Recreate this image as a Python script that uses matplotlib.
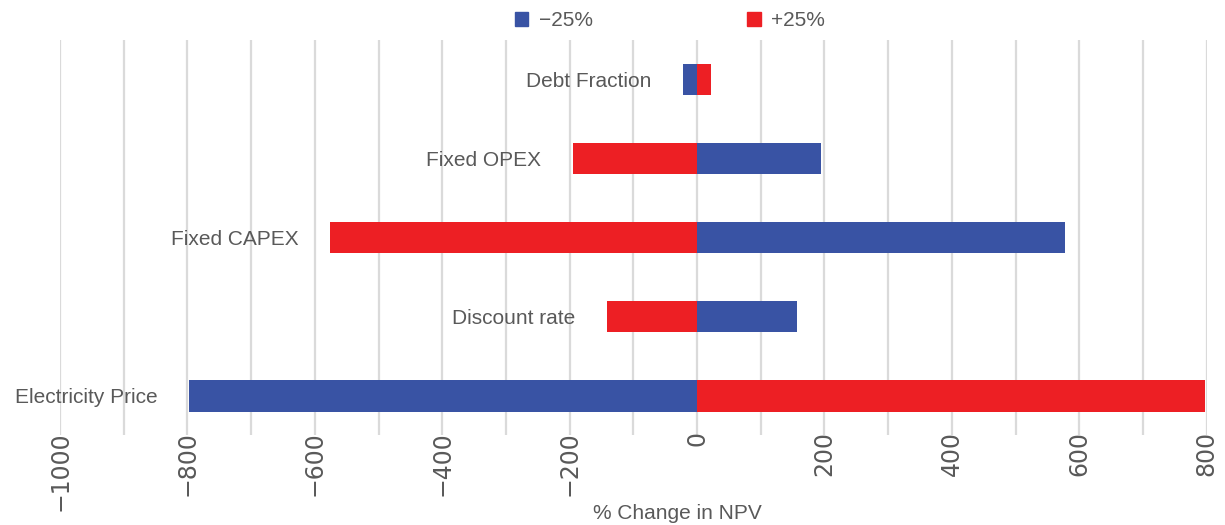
import matplotlib
matplotlib.use("Agg")
import matplotlib.pyplot as plt
from matplotlib.patches import Patch

categories = ["Debt Fraction", "Fixed OPEX", "Fixed CAPEX", "Discount rate", "Electricity Price"]
minus25 = [-22, 195, 578, 157, -797]
plus25 = [22, -195, -576, -141, 797]
xticks = list(range(-1000, 801, 200))
series_names = ["\u221225%", "+25%"]

BLUE = "#3953A4"
RED = "#ED1F24"
GREY = "#595959"

plt.rcParams['font.family'] = ['Liberation Sans', 'DejaVu Sans']

fig = plt.figure(figsize=(12.25, 5.25), dpi=100)
ax = fig.add_axes([0.049, 0.171, 0.936, 0.753])

ypos = list(range(len(categories)))
ax.barh(ypos, minus25, height=0.4, color=BLUE, zorder=3)
ax.barh(ypos, plus25, height=0.4, color=RED, zorder=3)

for y, name, a, b in zip(ypos, categories, minus25, plus25):
    ax.annotate(name, xy=(min(a, b, 0), y), xytext=(-23, 0), textcoords="offset points",
                ha="right", va="center_baseline", fontsize=15, color=GREY)

ax.set_xlim(-1000, 800)
ax.set_ylim(len(categories) - 0.5, -0.5)
ax.set_xticks(xticks)
ax.set_xticks(range(-1000, 801, 100), minor=True)
ax.set_xticklabels([str(t).replace("-", "\u2212") for t in xticks], rotation=90,
                   fontsize=17, color=GREY, family=['DejaVu Sans'])
ax.tick_params(axis="x", which="both", length=0, pad=-3)
ax.set_yticks([])
ax.grid(axis="x", which="both", color="#dadada", linewidth=1.6, zorder=0)
for s in ax.spines.values():
    s.set_visible(False)

ax.set_xlabel("% Change in NPV", fontsize=15, color=GREY, va="center")
ax.xaxis.set_label_coords(0.538, -0.198)

handles = [Patch(color=BLUE), Patch(color=RED)]
fig.legend(handles, series_names, loc="upper left", bbox_to_anchor=(0.405, 1.015), ncol=2,
           frameon=False, fontsize=15, labelcolor=GREY, handlelength=0.65, handleheight=0.65,
           handletextpad=0.5, columnspacing=7.4)

fig.savefig("out.png", dpi=100)
